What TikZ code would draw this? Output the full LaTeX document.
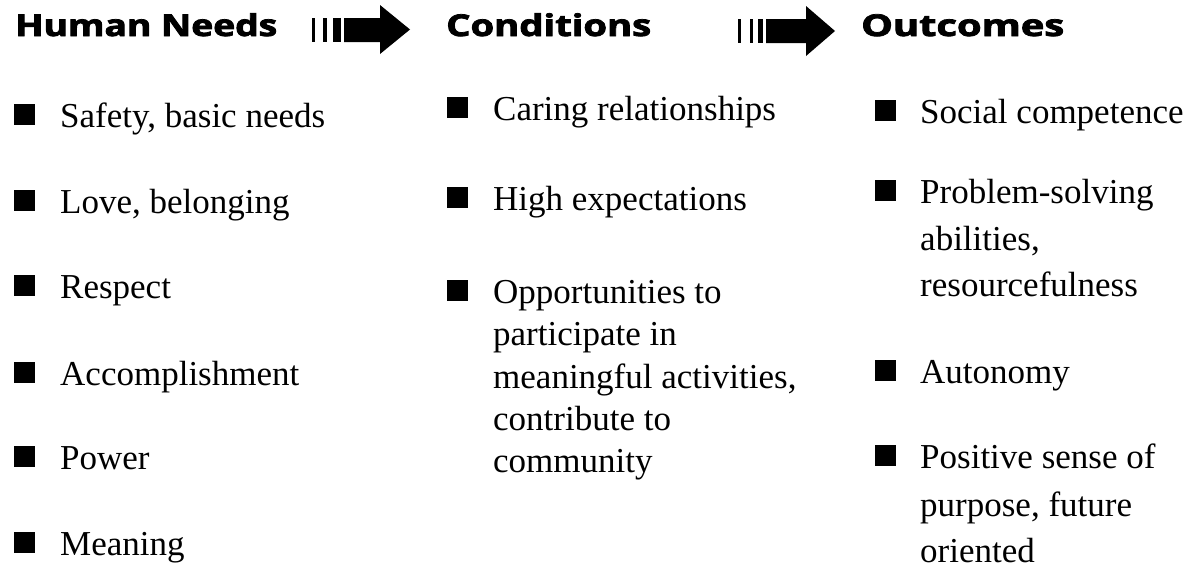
\documentclass[tikz,border=0pt]{standalone}
\usepackage{fontspec}
\usepackage{graphicx}
\setmainfont{Liberation Serif}
\newfontfamily\headfont{Open Sans}[BoldFeatures={FakeBold=2.5}]
\begin{document}
\begin{tikzpicture}[x=1pt,y=-1pt,
  head/.style={anchor=base west, inner sep=0pt, font=\headfont\bfseries\fontsize{30}{32}\selectfont},
  item/.style={anchor=base west, inner sep=0pt, font=\fontsize{35}{42}\selectfont},
  bul/.style={fill=black, minimum size=21pt, inner sep=0pt}]
\useasboundingbox (0,0) rectangle (1193,570);

% headings
\node[head] (h1) at (15,36) {\resizebox{262pt}{\height}{Human Needs}};
\node[head] (h2) at (446,36) {\resizebox{205pt}{\height}{Conditions}};
\node[head] (h3) at (861,36) {\resizebox{203pt}{\height}{Outcomes}};

% arrow 1
\fill (312,18) rectangle (315,42);
\fill (323,18) rectangle (327,42);
\fill (333,18) rectangle (341,42);
\fill (344,18) -- (380,18) -- (380,5) -- (410,29.5) -- (380,54) -- (380,42) -- (344,42) -- cycle;

% arrow 2
\fill (738,19) rectangle (741,43);
\fill (750,19) rectangle (753,43);
\fill (758,19) rectangle (763,43);
\fill (766,19) -- (806,19) -- (806,6) -- (835,31) -- (806,56) -- (806,43) -- (766,43) -- cycle;

% column 1
\node[bul] (b11) at (24.5,114) {};
\node[item] (t11) at (60,127) {Safety, basic needs};
\node[bul] (b12) at (24.5,200) {};
\node[item] (t12) at (60,213) {Love, belonging};
\node[bul] (b13) at (24.5,285) {};
\node[item] (t13) at (60,298) {Respect};
\node[bul] (b14) at (24.5,372) {};
\node[item] (t14) at (60,385) {Accomplishment};
\node[bul] (b15) at (24.5,456) {};
\node[item] (t15) at (60,469) {Power};
\node[bul] (b16) at (24.5,542) {};
\node[item] (t16) at (60,555) {Meaning};

% column 2
\node[bul] (b21) at (457,107) {};
\node[item] (t21) at (493,120) {Caring relationships};
\node[bul] (b22) at (457,197) {};
\node[item] (t22) at (493,210) {High expectations};
\node[bul] (b23) at (457,290) {};
\node[item] (t23a) at (493,303) {Opportunities to};
\node[item] (t23b) at (493,345) {participate in};
\node[item] (t23c) at (493,388) {meaningful activities,};
\node[item] (t23d) at (493,430) {contribute to};
\node[item] (t23e) at (493,472) {community};

% column 3
\node[bul] (b31) at (885.5,110) {};
\node[item] (t31) at (920,123) {Social competence};
\node[bul] (b32) at (885.5,190) {};
\node[item] (t32a) at (920,203) {Problem-solving};
\node[item] (t32b) at (920,250) {abilities,};
\node[item] (t32c) at (920,296) {resourcefulness};
\node[bul] (b33) at (885.5,370) {};
\node[item] (t33) at (920,383) {Autonomy};
\node[bul] (b34) at (885.5,455) {};
\node[item] (t34a) at (920,468) {Positive sense of};
\node[item] (t34b) at (920,516) {purpose, future};
\node[item] (t34c) at (920,562) {oriented};
\end{tikzpicture}
\end{document}
